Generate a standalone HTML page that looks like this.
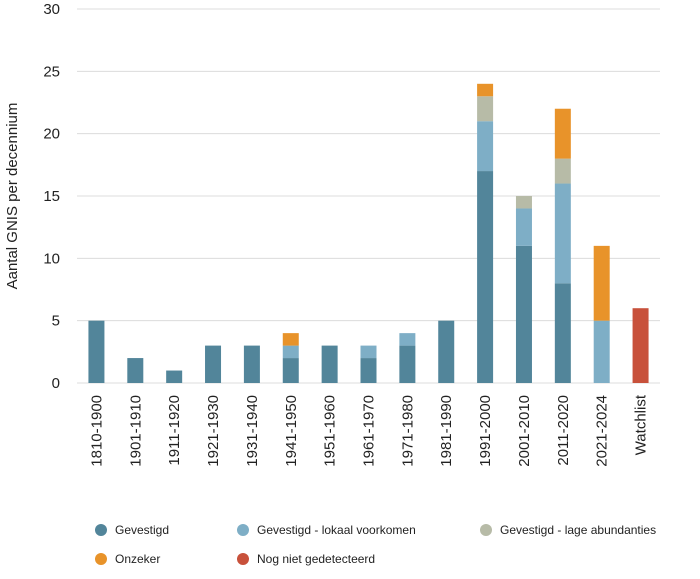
<!DOCTYPE html>
<html><head><meta charset="utf-8"><style>
body{margin:0;background:#fff;font-family:"Liberation Sans",sans-serif;}
svg text{font-family:"Liberation Sans",sans-serif;fill:#222;}
</style></head><body>
<svg id="c" width="700" height="574"></svg>
<script>
const categories=["1810-1900","1901-1910","1911-1920","1921-1930","1931-1940","1941-1950","1951-1960","1961-1970","1971-1980","1981-1990","1991-2000","2001-2010","2011-2020","2021-2024","Watchlist"];
const gevestigd=[5,2,1,3,3,2,3,2,3,5,17,11,8,0,0];
const lokaal=[0,0,0,0,0,1,0,1,1,0,4,3,8,5,0];
const lage=[0,0,0,0,0,0,0,0,0,0,2,1,2,0,0];
const onzeker=[0,0,0,0,0,1,0,0,0,0,1,0,4,6,0];
const nietGedetecteerd=[0,0,0,0,0,0,0,0,0,0,0,0,0,0,6];
const yTicks=[0,5,10,15,20,25,30];
const seriesNames=["Gevestigd","Gevestigd - lokaal voorkomen","Gevestigd - lage abundanties","Onzeker","Nog niet gedetecteerd"];
const series=[gevestigd,lokaal,lage,onzeker,nietGedetecteerd];
const colors=["#52859a","#7eaec6","#b7bba7","#e8932a","#c8513b"];
const ns="http://www.w3.org/2000/svg";
const svg=document.getElementById('c');
const x0=77,x1=660,y0=383,y1=9;
const y=v=>y0-(v/30)*(y0-y1);
const step=(x1-x0)/categories.length;
const xc=i=>x0+step*(i+0.5);
function mk(t,a,p){const e=document.createElementNS(ns,t);for(const k in a)e.setAttribute(k,a[k]);(p||svg).appendChild(e);return e;}
yTicks.forEach(t=>{
 const l=mk('line',{x1:x0,x2:x1,y1:y(t),y2:y(t),stroke:'#dcdcdc','stroke-width':1});
 
 
 const tx=mk('text',{x:60,y:y(t)+5,'text-anchor':'end','font-size':15});
 tx.textContent=t;
 
 
});
const yt=mk('text',{transform:'translate(17,196) rotate(-90)','text-anchor':'middle','font-size':15});
yt.textContent='Aantal GNIS per decennium';


categories.forEach((c,i)=>{
 let acc=0;
 series.forEach((s,k)=>{
  if(s[i]>0){
   const r=mk('rect',{x:xc(i)-8,width:16,y:y(acc+s[i]),height:y(acc)-y(acc+s[i]),fill:colors[k]});
   
   
   acc+=s[i];
  }
 });
 const tx=mk('text',{transform:`translate(${xc(i)+5},395) rotate(-90)`,'text-anchor':'end','font-size':15});
 tx.textContent=c;
 
 
});
const lx=[101,243,486],ly=[530,559];
seriesNames.forEach((n,k)=>{
 const cx=lx[k%3],cy=ly[Math.floor(k/3)];
 const g=mk('g',{});
 
 
 mk('circle',{cx:cx,cy:cy,r:6,fill:colors[k]},g);
 const t=mk('text',{x:cx+14,y:cy+4,'font-size':12},g);
 t.textContent=n;
});
</script>
</body></html>
